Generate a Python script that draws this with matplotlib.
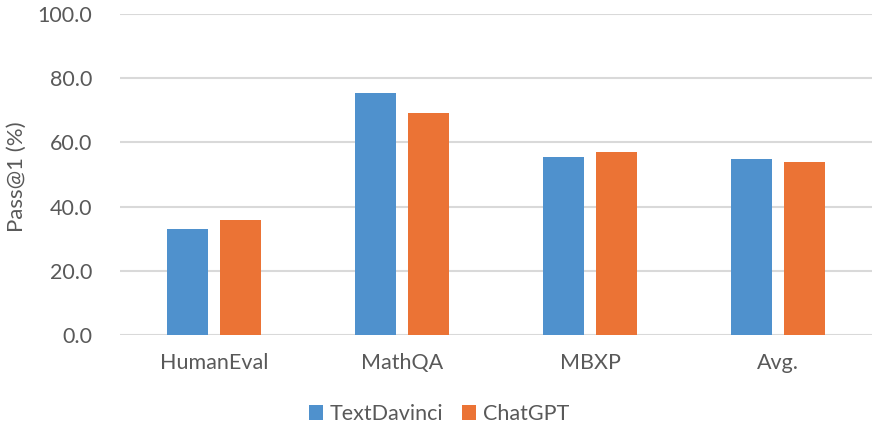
import matplotlib
matplotlib.use("Agg")
import matplotlib.pyplot as plt
import numpy as np

categories = ["HumanEval", "MathQA", "MBXP", "Avg."]
series_names = ["TextDavinci", "ChatGPT"]
textdavinci = [33.0, 75.3, 55.3, 54.7]
chatgpt = [35.8, 69.1, 57.1, 54.0]
yticks = [0, 20, 40, 60, 80, 100]

colors = ["#4F91CD", "#EB7335"]
txt = "#595959"
plt.rcParams['font.family'] = ['Lato', 'DejaVu Sans']
fs = 15.5

fig = plt.figure(figsize=(8.74, 4.30), dpi=100)
ax = fig.add_axes([120/874, 1-335/430, 752/874, 321/430])

x = np.arange(len(categories))
w = 0.223
off = 0.141
ax.bar(x - off, textdavinci, w, color=colors[0], label=series_names[0], zorder=3)
ax.bar(x + off, chatgpt, w, color=colors[1], label=series_names[1], zorder=3)

ax.set_xlim(-0.5, len(categories) - 0.5)
ax.set_ylim(0, 100)
ax.set_yticks(yticks)
ax.set_yticklabels([f"{v:.1f}" for v in yticks])
ax.set_xticks(x)
ax.set_xticklabels(categories)
ax.grid(axis='y', color='#D9D9D9', linewidth=1.5, zorder=0)
ax.set_axisbelow(True)
for s in ax.spines.values():
    s.set_visible(False)
ax.tick_params(axis='both', length=0, colors=txt, labelsize=fs)
ax.tick_params(axis='y', pad=20)
ax.tick_params(axis='x', pad=13)
fig.text(17/874, 1-176.5/430, "Pass@1 (%)", rotation=90, ha='center', va='center',
         color=txt, fontsize=16)

leg = fig.legend(loc='center', bbox_to_anchor=(439/874, 1-414/430), ncol=2, frameon=False,
                 fontsize=fs, handlelength=0.65, handleheight=0.65, handletextpad=0.3,
                 columnspacing=0.9)
for t in leg.get_texts():
    t.set_color(txt)

fig.savefig("out.png", dpi=100)
